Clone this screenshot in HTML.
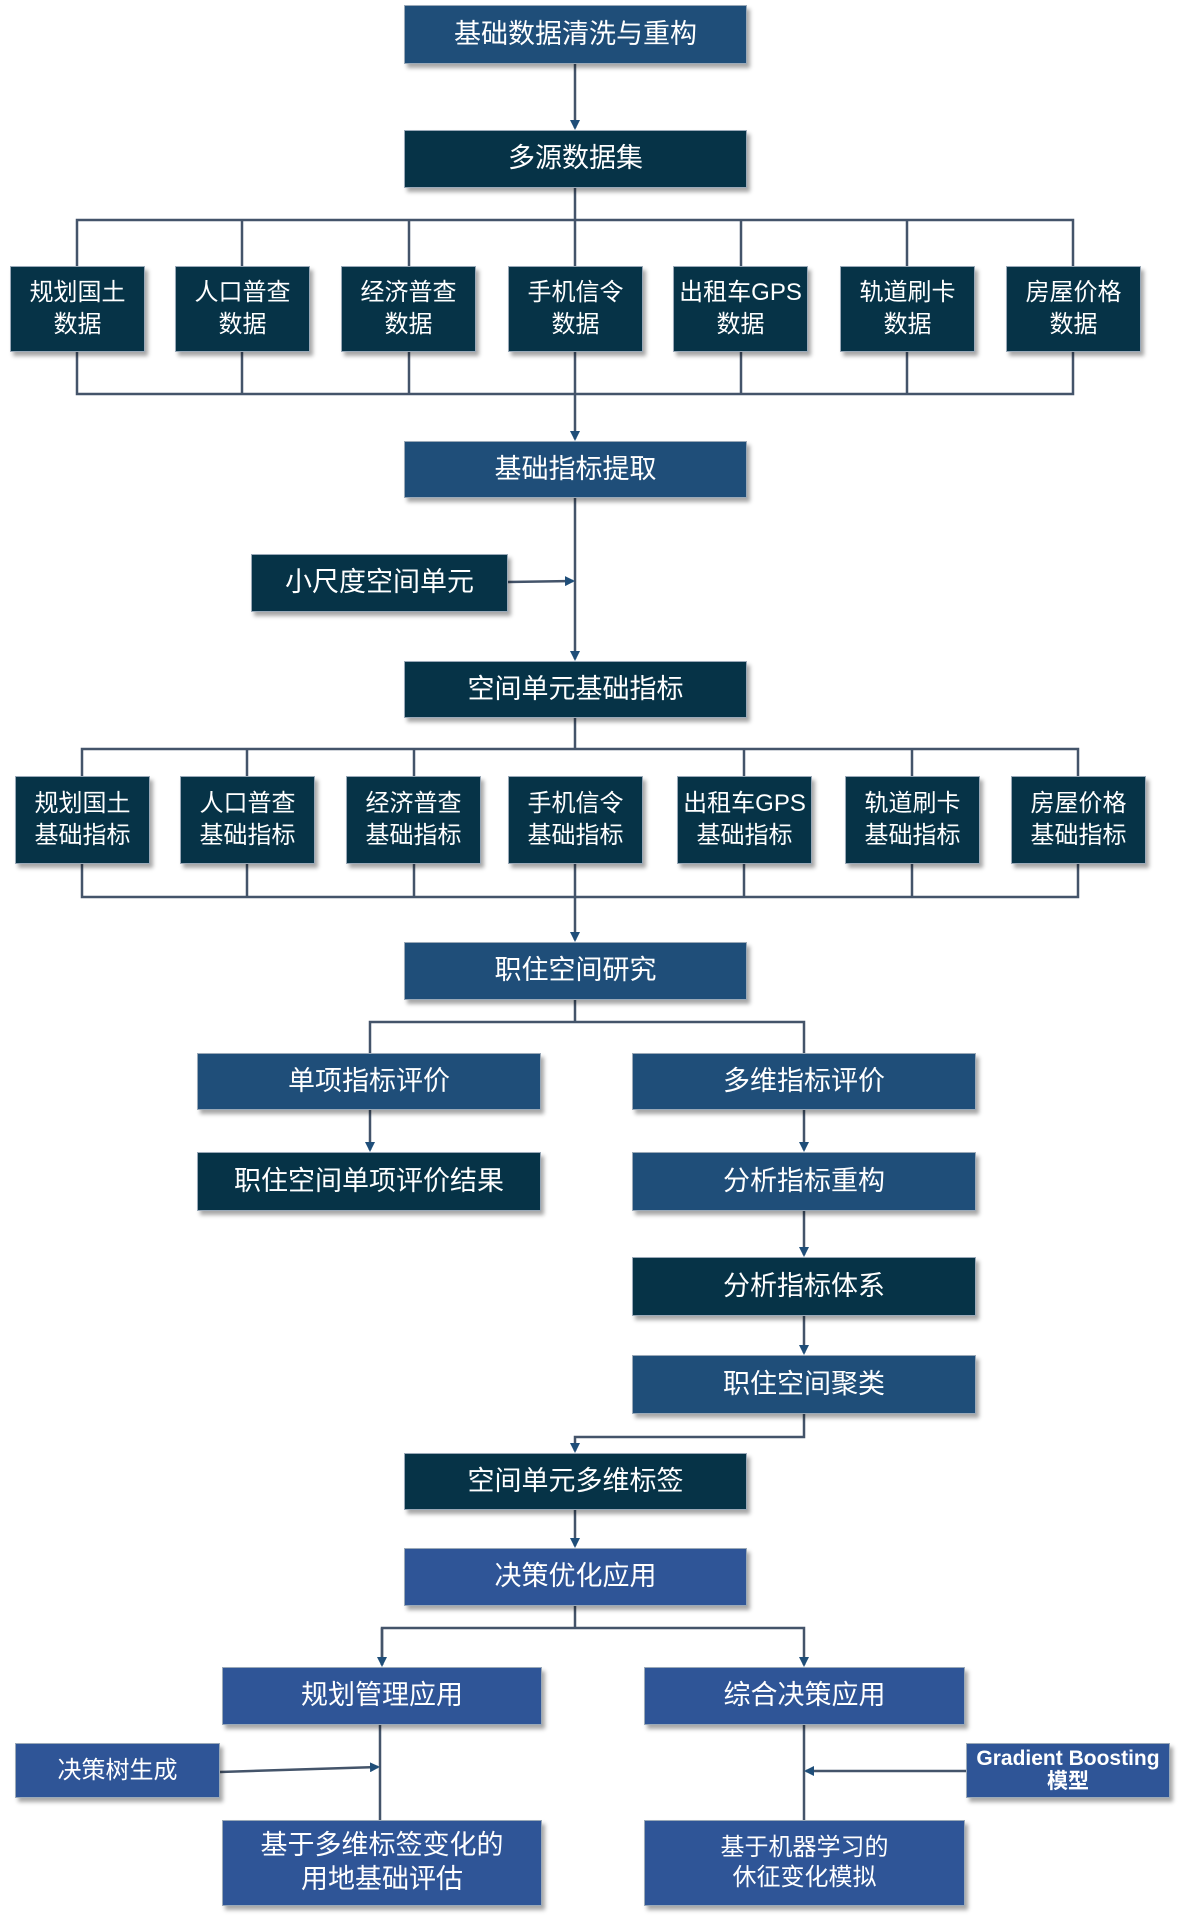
<!DOCTYPE html>
<html><head><meta charset="utf-8"><style>
body{margin:0;width:1181px;height:1920px;background:#fff;position:relative;overflow:hidden;font-family:"Liberation Sans","Noto Sans CJK SC",sans-serif}
.b{position:absolute;display:flex;align-items:center;justify-content:center;text-align:center;color:#fff;box-shadow:3px 4px 4px rgba(0,0,0,.35);border:1px solid #9aa9b8;box-sizing:border-box;font-size:27px;line-height:1.25}
.m{background:#1f4e79}.d{background:#063347}.l{background:#2f5597}
.s{font-size:24px;line-height:1.35}
svg{position:absolute;left:0;top:0}
</style></head><body>
<svg width="1181" height="1920" viewBox="0 0 1181 1920">
<defs><marker id="a" markerWidth="10" markerHeight="10" refX="8" refY="5" orient="auto" markerUnits="userSpaceOnUse"><path d="M0,0 L10,5 L0,10z" fill="#1f4e79"/></marker></defs>
<g stroke="#44546a" stroke-width="2.5" fill="none">
<line x1="575" y1="64" x2="575" y2="128" marker-end="url(#a)"/>
<line x1="575" y1="188" x2="575" y2="220"/>
<polyline points="77,266 77,220 1073,220 1073,266"/>
<line x1="242" y1="220" x2="242" y2="266"/><line x1="409" y1="220" x2="409" y2="266"/><line x1="575" y1="220" x2="575" y2="266"/><line x1="741" y1="220" x2="741" y2="266"/><line x1="907" y1="220" x2="907" y2="266"/>
<polyline points="77,352 77,394 1073,394 1073,352"/>
<line x1="242" y1="352" x2="242" y2="394"/><line x1="409" y1="352" x2="409" y2="394"/><line x1="575" y1="352" x2="575" y2="439" marker-end="url(#a)"/><line x1="741" y1="352" x2="741" y2="394"/><line x1="907" y1="352" x2="907" y2="394"/>
<line x1="575" y1="498" x2="575" y2="659" marker-end="url(#a)"/>
<line x1="508" y1="582" x2="573" y2="581" marker-end="url(#a)"/>
<line x1="575" y1="718" x2="575" y2="749"/>
<polyline points="82,776 82,749 1078,749 1078,776"/>
<line x1="247" y1="749" x2="247" y2="776"/><line x1="414" y1="749" x2="414" y2="776"/><line x1="744" y1="749" x2="744" y2="776"/><line x1="912" y1="749" x2="912" y2="776"/>
<polyline points="82,864 82,897 1078,897 1078,864"/>
<line x1="247" y1="864" x2="247" y2="897"/><line x1="414" y1="864" x2="414" y2="897"/><line x1="575" y1="864" x2="575" y2="940" marker-end="url(#a)"/><line x1="744" y1="864" x2="744" y2="897"/><line x1="912" y1="864" x2="912" y2="897"/>
<line x1="575" y1="1000" x2="575" y2="1022"/>
<polyline points="370,1053 370,1022 804,1022 804,1053"/>
<line x1="370" y1="1110" x2="370" y2="1150" marker-end="url(#a)"/>
<line x1="804" y1="1110" x2="804" y2="1150" marker-end="url(#a)"/>
<line x1="804" y1="1211" x2="804" y2="1255" marker-end="url(#a)"/>
<line x1="804" y1="1316" x2="804" y2="1353" marker-end="url(#a)"/>
<polyline points="804,1414 804,1437 575,1437 575,1451" marker-end="url(#a)"/>
<line x1="575" y1="1510" x2="575" y2="1546" marker-end="url(#a)"/>
<line x1="575" y1="1606" x2="575" y2="1628"/>
<polyline points="382,1665 382,1628 804,1628 804,1665" marker-end="url(#a)"/>
<line x1="382" y1="1628" x2="382" y2="1665" marker-end="url(#a)"/>
<line x1="380" y1="1725" x2="380" y2="1820"/>
<line x1="804" y1="1725" x2="804" y2="1820"/>
<line x1="220" y1="1772" x2="378" y2="1767" marker-end="url(#a)"/>
<line x1="966" y1="1771" x2="806" y2="1771" marker-end="url(#a)"/>
</g></svg>
<div class="b m" style="left:404px;top:5px;width:343px;height:59px">基础数据清洗与重构</div>
<div class="b d" style="left:404px;top:130px;width:343px;height:58px">多源数据集</div>
<div class="b d s" style="left:10px;top:266px;width:135px;height:86px">规划国土<br>数据</div>
<div class="b d s" style="left:175px;top:266px;width:135px;height:86px">人口普查<br>数据</div>
<div class="b d s" style="left:341px;top:266px;width:135px;height:86px">经济普查<br>数据</div>
<div class="b d s" style="left:508px;top:266px;width:135px;height:86px">手机信令<br>数据</div>
<div class="b d s" style="left:673px;top:266px;width:135px;height:86px">出租车GPS<br>数据</div>
<div class="b d s" style="left:840px;top:266px;width:135px;height:86px">轨道刷卡<br>数据</div>
<div class="b d s" style="left:1006px;top:266px;width:135px;height:86px">房屋价格<br>数据</div>
<div class="b m" style="left:404px;top:441px;width:343px;height:57px">基础指标提取</div>
<div class="b d" style="left:251px;top:554px;width:257px;height:58px">小尺度空间单元</div>
<div class="b d" style="left:404px;top:661px;width:343px;height:57px">空间单元基础指标</div>
<div class="b d s" style="left:15px;top:776px;width:135px;height:88px">规划国土<br>基础指标</div>
<div class="b d s" style="left:180px;top:776px;width:135px;height:88px">人口普查<br>基础指标</div>
<div class="b d s" style="left:346px;top:776px;width:135px;height:88px">经济普查<br>基础指标</div>
<div class="b d s" style="left:508px;top:776px;width:135px;height:88px">手机信令<br>基础指标</div>
<div class="b d s" style="left:677px;top:776px;width:135px;height:88px">出租车GPS<br>基础指标</div>
<div class="b d s" style="left:845px;top:776px;width:135px;height:88px">轨道刷卡<br>基础指标</div>
<div class="b d s" style="left:1011px;top:776px;width:135px;height:88px">房屋价格<br>基础指标</div>
<div class="b m" style="left:404px;top:942px;width:343px;height:58px">职住空间研究</div>
<div class="b m" style="left:197px;top:1053px;width:344px;height:57px">单项指标评价</div>
<div class="b m" style="left:632px;top:1053px;width:344px;height:57px">多维指标评价</div>
<div class="b d" style="left:197px;top:1152px;width:344px;height:59px">职住空间单项评价结果</div>
<div class="b m" style="left:632px;top:1152px;width:344px;height:59px">分析指标重构</div>
<div class="b d" style="left:632px;top:1257px;width:344px;height:59px">分析指标体系</div>
<div class="b m" style="left:632px;top:1355px;width:344px;height:59px">职住空间聚类</div>
<div class="b d" style="left:404px;top:1453px;width:343px;height:57px">空间单元多维标签</div>
<div class="b l" style="left:404px;top:1548px;width:343px;height:58px">决策优化应用</div>
<div class="b l" style="left:222px;top:1667px;width:320px;height:58px">规划管理应用</div>
<div class="b l" style="left:644px;top:1667px;width:321px;height:58px">综合决策应用</div>
<div class="b l" style="left:15px;top:1743px;width:205px;height:55px;font-size:24px">决策树生成</div>
<div class="b l" style="left:966px;top:1743px;width:204px;height:55px;font-size:21px;line-height:1.05;font-weight:bold">Gradient Boosting<br>模型</div>
<div class="b l" style="left:222px;top:1820px;width:320px;height:86px;font-size:27px">基于多维标签变化的<br>用地基础评估</div>
<div class="b l" style="left:644px;top:1820px;width:321px;height:86px;font-size:24px">基于机器学习的<br>休征变化模拟</div>
</body></html>
